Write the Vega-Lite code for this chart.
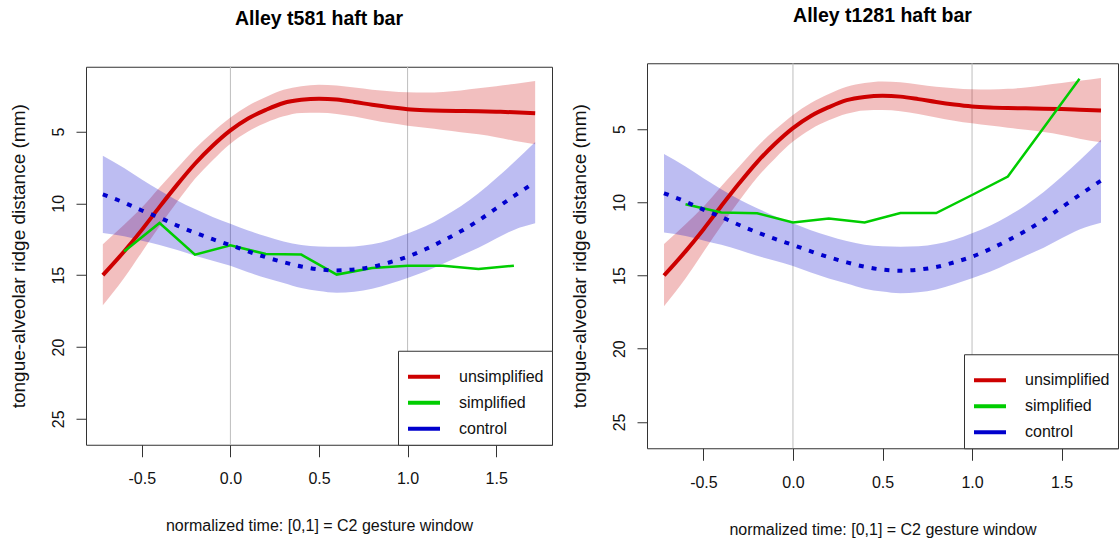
{
  "$schema": "https://vega.github.io/schema/vega-lite/v6.json",
  "padding": {"left": 8, "top": 5, "right": 0, "bottom": 0},
  "spacing": 16,
  "center": true,
  "background": "white",
  "datasets": {
    "curves": [
      {"s": "unsimplified", "x": -0.72, "y": 15.0, "lo": 12.85, "hi": 17.1},
      {"s": "unsimplified", "x": -0.6, "y": 13.35, "lo": 11.5, "hi": 15.2},
      {"s": "unsimplified", "x": -0.5, "y": 11.85, "lo": 10.3, "hi": 13.4},
      {"s": "unsimplified", "x": -0.4, "y": 10.25, "lo": 8.9, "hi": 11.6},
      {"s": "unsimplified", "x": -0.3, "y": 8.7, "lo": 7.55, "hi": 9.9},
      {"s": "unsimplified", "x": -0.2, "y": 7.25, "lo": 6.2, "hi": 8.3},
      {"s": "unsimplified", "x": -0.1, "y": 6.0, "lo": 5.05, "hi": 7.0},
      {"s": "unsimplified", "x": 0.0, "y": 4.93, "lo": 4.03, "hi": 5.85},
      {"s": "unsimplified", "x": 0.1, "y": 4.1, "lo": 3.22, "hi": 5.0},
      {"s": "unsimplified", "x": 0.2, "y": 3.5, "lo": 2.6, "hi": 4.4},
      {"s": "unsimplified", "x": 0.3, "y": 3.02, "lo": 2.1, "hi": 3.95},
      {"s": "unsimplified", "x": 0.4, "y": 2.8, "lo": 1.85, "hi": 3.72},
      {"s": "unsimplified", "x": 0.5, "y": 2.72, "lo": 1.75, "hi": 3.7},
      {"s": "unsimplified", "x": 0.6, "y": 2.78, "lo": 1.8, "hi": 3.78},
      {"s": "unsimplified", "x": 0.7, "y": 2.95, "lo": 1.95, "hi": 3.97},
      {"s": "unsimplified", "x": 0.8, "y": 3.15, "lo": 2.1, "hi": 4.2},
      {"s": "unsimplified", "x": 0.9, "y": 3.32, "lo": 2.2, "hi": 4.42},
      {"s": "unsimplified", "x": 1.0, "y": 3.45, "lo": 2.28, "hi": 4.6},
      {"s": "unsimplified", "x": 1.1, "y": 3.52, "lo": 2.3, "hi": 4.75},
      {"s": "unsimplified", "x": 1.2, "y": 3.56, "lo": 2.25, "hi": 4.9},
      {"s": "unsimplified", "x": 1.3, "y": 3.58, "lo": 2.15, "hi": 5.05},
      {"s": "unsimplified", "x": 1.4, "y": 3.6, "lo": 2.0, "hi": 5.2},
      {"s": "unsimplified", "x": 1.5, "y": 3.63, "lo": 1.85, "hi": 5.4},
      {"s": "unsimplified", "x": 1.6, "y": 3.67, "lo": 1.7, "hi": 5.65},
      {"s": "unsimplified", "x": 1.72, "y": 3.73, "lo": 1.5, "hi": 5.9},
      {"s": "control", "x": -0.72, "y": 9.38, "lo": 6.7, "hi": 12.07},
      {"s": "control", "x": -0.6, "y": 9.95, "lo": 7.55, "hi": 12.3},
      {"s": "control", "x": -0.5, "y": 10.5, "lo": 8.35, "hi": 12.6},
      {"s": "control", "x": -0.4, "y": 11.0, "lo": 9.1, "hi": 12.9},
      {"s": "control", "x": -0.3, "y": 11.55, "lo": 9.8, "hi": 13.25},
      {"s": "control", "x": -0.2, "y": 12.05, "lo": 10.4, "hi": 13.65},
      {"s": "control", "x": -0.1, "y": 12.5, "lo": 10.95, "hi": 14.0},
      {"s": "control", "x": 0.0, "y": 12.91, "lo": 11.43, "hi": 14.35},
      {"s": "control", "x": 0.1, "y": 13.35, "lo": 11.9, "hi": 14.8},
      {"s": "control", "x": 0.2, "y": 13.75, "lo": 12.3, "hi": 15.2},
      {"s": "control", "x": 0.3, "y": 14.1, "lo": 12.65, "hi": 15.55},
      {"s": "control", "x": 0.4, "y": 14.4, "lo": 12.9, "hi": 15.9},
      {"s": "control", "x": 0.5, "y": 14.6, "lo": 13.0, "hi": 16.1},
      {"s": "control", "x": 0.6, "y": 14.67, "lo": 13.03, "hi": 16.22},
      {"s": "control", "x": 0.7, "y": 14.6, "lo": 13.0, "hi": 16.15},
      {"s": "control", "x": 0.8, "y": 14.42, "lo": 12.85, "hi": 15.95},
      {"s": "control", "x": 0.9, "y": 14.1, "lo": 12.55, "hi": 15.6},
      {"s": "control", "x": 1.0, "y": 13.71, "lo": 12.11, "hi": 15.19},
      {"s": "control", "x": 1.1, "y": 13.2, "lo": 11.6, "hi": 14.75},
      {"s": "control", "x": 1.2, "y": 12.6, "lo": 10.95, "hi": 14.2},
      {"s": "control", "x": 1.3, "y": 11.95, "lo": 10.2, "hi": 13.65},
      {"s": "control", "x": 1.4, "y": 11.2, "lo": 9.3, "hi": 13.1},
      {"s": "control", "x": 1.5, "y": 10.35, "lo": 8.25, "hi": 12.45},
      {"s": "control", "x": 1.6, "y": 9.5, "lo": 7.15, "hi": 11.85},
      {"s": "control", "x": 1.72, "y": 8.52, "lo": 5.73, "hi": 11.39}
    ],
    "simp581": [
      {"s": "simplified", "x": -0.6, "y": 13.35},
      {"s": "simplified", "x": -0.4, "y": 11.37},
      {"s": "simplified", "x": -0.2, "y": 13.57},
      {"s": "simplified", "x": 0.0, "y": 12.93},
      {"s": "simplified", "x": 0.2, "y": 13.53},
      {"s": "simplified", "x": 0.4, "y": 13.57},
      {"s": "simplified", "x": 0.6, "y": 14.96},
      {"s": "simplified", "x": 0.8, "y": 14.5},
      {"s": "simplified", "x": 1.0, "y": 14.34},
      {"s": "simplified", "x": 1.2, "y": 14.34},
      {"s": "simplified", "x": 1.4, "y": 14.57},
      {"s": "simplified", "x": 1.6, "y": 14.34}
    ],
    "simp1281": [
      {"s": "simplified", "x": -0.6, "y": 10.13},
      {"s": "simplified", "x": -0.4, "y": 10.7},
      {"s": "simplified", "x": -0.2, "y": 10.75},
      {"s": "simplified", "x": 0.0, "y": 11.37},
      {"s": "simplified", "x": 0.2, "y": 11.1},
      {"s": "simplified", "x": 0.4, "y": 11.37},
      {"s": "simplified", "x": 0.6, "y": 10.73},
      {"s": "simplified", "x": 0.8, "y": 10.73},
      {"s": "simplified", "x": 1.0, "y": 9.5},
      {"s": "simplified", "x": 1.2, "y": 8.24},
      {"s": "simplified", "x": 1.4, "y": 4.9},
      {"s": "simplified", "x": 1.6, "y": 1.56}
    ],
    "grid": [{"g": 0}, {"g": 1}]
  },
  "hconcat": [
    {
      "width": 466,
      "height": 378,
      "title": {"text": "Alley t581 haft bar", "offset": 37},
      "layer": [
        {"data": {"name": "grid"}, "mark": {"type": "rule", "color": "#BEBEBE", "strokeWidth": 1}, "encoding": {"x": {"field": "g", "type": "quantitative"}}},
        {"data": {"name": "curves"}, "transform": [{"filter": "datum.s === 'unsimplified'"}], "mark": {"type": "area", "color": "#CD0000", "opacity": 0.25, "interpolate": "monotone"}, "encoding": {"x": {"field": "x", "type": "quantitative"}, "y": {"field": "lo", "type": "quantitative"}, "y2": {"field": "hi"}}},
        {"data": {"name": "curves"}, "transform": [{"filter": "datum.s === 'control'"}], "mark": {"type": "area", "color": "#0000CD", "opacity": 0.26, "interpolate": "monotone"}, "encoding": {"x": {"field": "x", "type": "quantitative"}, "y": {"field": "lo", "type": "quantitative"}, "y2": {"field": "hi"}}},
        {"data": {"name": "curves"}, "transform": [{"filter": "datum.s === 'unsimplified'"}], "mark": {"type": "line", "color": "#CD0000", "strokeWidth": 4, "interpolate": "monotone"}, "encoding": {"x": {"field": "x", "type": "quantitative"}, "y": {"field": "y", "type": "quantitative"}}},
        {"data": {"name": "simp581"}, "mark": {"type": "line", "strokeWidth": 2.5}, "encoding": {"x": {"field": "x", "type": "quantitative"}, "y": {"field": "y", "type": "quantitative"}, "color": {"field": "s", "type": "nominal", "scale": {"domain": ["unsimplified", "simplified", "control"], "range": ["#CD0000", "#00CD00", "#0000CD"]}, "legend": {"title": null, "orient": "bottom-right"}}}},
        {"data": {"name": "curves"}, "transform": [{"filter": "datum.s === 'control'"}], "mark": {"type": "line", "color": "#0000CD", "strokeWidth": 4, "strokeDash": [5, 8], "interpolate": "monotone"}, "encoding": {"x": {"field": "x", "type": "quantitative"}, "y": {"field": "y", "type": "quantitative"}}}
      ],
      "encoding": {
        "x": {"type": "quantitative", "scale": {"domain": [-0.815, 1.815], "nice": false, "zero": false}, "axis": {"values": [-0.5, 0, 0.5, 1, 1.5], "labelExpr": "datum.value < 0 ? '-' + format(-datum.value, '.1f') : format(datum.value, '.1f')", "title": "normalized time: [0,1] = C2 gesture window"}},
        "y": {"type": "quantitative", "scale": {"domain": [0.5, 26.8], "reverse": true, "nice": false, "zero": false}, "axis": {"values": [5, 10, 15, 20, 25], "format": "d", "title": "tongue-alveolar ridge distance (mm)"}}
      }
    },
    {
      "width": 471,
      "height": 385,
      "title": {"text": "Alley t1281 haft bar", "offset": 36},
      "layer": [
        {"data": {"name": "grid"}, "mark": {"type": "rule", "color": "#BEBEBE", "strokeWidth": 1}, "encoding": {"x": {"field": "g", "type": "quantitative"}}},
        {"data": {"name": "curves"}, "transform": [{"filter": "datum.s === 'unsimplified'"}], "mark": {"type": "area", "color": "#CD0000", "opacity": 0.25, "interpolate": "monotone"}, "encoding": {"x": {"field": "x", "type": "quantitative"}, "y": {"field": "lo", "type": "quantitative"}, "y2": {"field": "hi"}}},
        {"data": {"name": "curves"}, "transform": [{"filter": "datum.s === 'control'"}], "mark": {"type": "area", "color": "#0000CD", "opacity": 0.26, "interpolate": "monotone"}, "encoding": {"x": {"field": "x", "type": "quantitative"}, "y": {"field": "lo", "type": "quantitative"}, "y2": {"field": "hi"}}},
        {"data": {"name": "curves"}, "transform": [{"filter": "datum.s === 'unsimplified'"}], "mark": {"type": "line", "color": "#CD0000", "strokeWidth": 4, "interpolate": "monotone"}, "encoding": {"x": {"field": "x", "type": "quantitative"}, "y": {"field": "y", "type": "quantitative"}}},
        {"data": {"name": "simp1281"}, "mark": {"type": "line", "strokeWidth": 2.5}, "encoding": {"x": {"field": "x", "type": "quantitative"}, "y": {"field": "y", "type": "quantitative"}, "color": {"field": "s", "type": "nominal", "scale": {"domain": ["unsimplified", "simplified", "control"], "range": ["#CD0000", "#00CD00", "#0000CD"]}, "legend": {"title": null, "orient": "bottom-right"}}}},
        {"data": {"name": "curves"}, "transform": [{"filter": "datum.s === 'control'"}], "mark": {"type": "line", "color": "#0000CD", "strokeWidth": 4, "strokeDash": [5, 8], "interpolate": "monotone"}, "encoding": {"x": {"field": "x", "type": "quantitative"}, "y": {"field": "y", "type": "quantitative"}}}
      ],
      "encoding": {
        "x": {"type": "quantitative", "scale": {"domain": [-0.815, 1.815], "nice": false, "zero": false}, "axis": {"values": [-0.5, 0, 0.5, 1, 1.5], "labelExpr": "datum.value < 0 ? '-' + format(-datum.value, '.1f') : format(datum.value, '.1f')", "title": "normalized time: [0,1] = C2 gesture window"}},
        "y": {"type": "quantitative", "scale": {"domain": [0.5, 26.8], "reverse": true, "nice": false, "zero": false}, "axis": {"values": [5, 10, 15, 20, 25], "format": "d", "title": "tongue-alveolar ridge distance (mm)"}}
      }
    }
  ],
  "resolve": {"scale": {"color": "independent", "x": "independent", "y": "independent"}, "legend": {"color": "independent"}},
  "config": {
    "font": "Liberation Sans",
    "view": {"stroke": "#333", "strokeWidth": 1},
    "title": {"font": "Liberation Sans", "fontSize": 19.5, "fontWeight": "bold", "color": "#000", "anchor": "middle"},
    "axis": {"domain": false, "grid": false, "tickColor": "#333", "labelFont": "Liberation Sans", "labelFontSize": 16, "labelColor": "#111", "titleFont": "Liberation Sans", "titleFontWeight": "normal", "titleColor": "#111"},
    "axisX": {"tickSize": 12, "labelPadding": 14, "titleFontSize": 16, "titlePadding": 31},
    "axisY": {"tickSize": 10, "labelAngle": -90, "labelAlign": "center", "labelBaseline": "bottom", "labelPadding": 10, "titleFontSize": 19, "titlePadding": 22},
    "legend": {"offset": 0, "strokeColor": "#333", "fillColor": "white", "padding": 8, "labelFontSize": 16, "labelColor": "#111", "labelFont": "Liberation Sans", "symbolType": "stroke", "symbolSize": 1024, "symbolStrokeWidth": 4, "labelOffset": 17, "rowPadding": -8, "cornerRadius": 0}
  }
}
